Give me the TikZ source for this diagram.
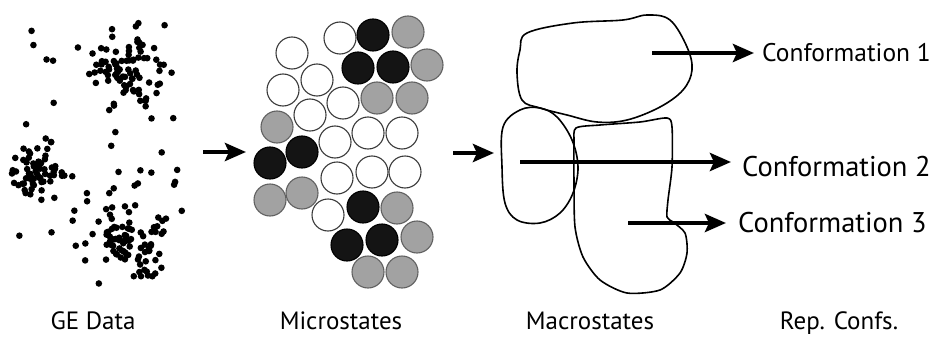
\documentclass[tikz,border=0pt]{standalone}
\usepackage{fontspec}
\setmainfont{PT Sans}
\usetikzlibrary{arrows.meta}
\definecolor{cgray}{HTML}{A2A2A2}
\definecolor{cline}{HTML}{3A3A3A}
\tikzset{
  bigarrow/.style={line width=4.6pt,-{Stealth[length=21pt,width=18pt,inset=4pt]}},
  blob/.style={line width=1.6pt,line join=round},
  cw/.style={draw=cline,line width=1.1pt,fill=white},
  cb/.style={draw=black,line width=1.1pt,fill=black!92},
  cg/.style={draw=cline!80,line width=1.1pt,fill=cgray},
  lab/.style={font=\fontsize{25}{28}\selectfont,inner sep=0pt,anchor=base},
  conf/.style={inner sep=0pt,anchor=base west},
  dot/.style={fill=black}
}
\begin{document}
\begin{tikzpicture}[x=1pt,y=-1pt]
\useasboundingbox (0,0) rectangle (933,337);
\fill[white] (0,0) rectangle (933,337);
% ---------- GE data dots ----------
\pgfmathsetseed{4321}
\foreach \i in {1,...,80}{
  \pgfmathsetmacro\px{129+18*(rand+rand+rand)}
  \pgfmathsetmacro\py{72+21*(rand+rand+rand)}
  \fill[dot] (\px,\py) circle (3.3pt);
}
\foreach \i in {1,...,60}{
  \pgfmathsetmacro\px{36+11*(rand+rand+rand)}
  \pgfmathsetmacro\py{168+13*(rand+rand+rand)}
  \fill[dot] (\px,\py) circle (3.3pt);
}
\foreach \i in {1,...,80}{
  \pgfmathsetmacro\px{130+19*(rand+rand+rand)}
  \pgfmathsetmacro\py{240+20*(rand+rand+rand)}
  \fill[dot] (\px,\py) circle (3.3pt);
}
\foreach \i in {1,...,45}{
  \pgfmathsetmacro\px{100+82*rand}
  \pgfmathsetmacro\py{150+130*rand}
  \fill[dot] (\px,\py) circle (3.3pt);
}
% ---------- Microstates ----------
\foreach \x/\y/\s in {
  340/38/cw, 373/35/cb, 408/32/cg,
  292/53/cw, 358/68/cb, 393/67/cb, 427/65/cg,
  317/80/cw, 283/90/cw, 343/103/cw, 377/98/cg, 412/98/cg,
  310/115/cw, 277/127/cg, 335/142/cw, 368/133/cw, 402/133/cw,
  302/152/cb, 270/163/cb, 337/178/cw, 372/172/cw, 405/172/cw,
  270/200/cg, 302/193/cg, 328/215/cw, 363/207/cb, 397/208/cg,
  347/245/cb, 382/240/cb, 417/237/cg,
  368/272/cg, 402/272/cg}{
  \draw[\s] (\x,\y) circle (16pt);
}
% ---------- Macrostates ----------
\draw[blob] plot[smooth cycle,tension=0.6] coordinates {
  (527,33) (573,23) (623,20) (647,15) (670,20) (687,47) (692,70) (683,90)
  (660,107) (627,120) (597,122) (567,115) (540,108) (522,100) (517,73) (520,50)};
\draw[blob] plot[smooth cycle,tension=0.6] coordinates {
  (520,110) (540,108) (557,117) (572,140) (578,167) (573,193) (560,213)
  (540,223) (517,220) (505,203) (502,167) (503,127)};
\draw[blob] plot[smooth cycle,tension=0.45] coordinates {
  (576,128) (600,125) (640,122) (667,118) (672,127) (672,167) (668,200)
  (667,217) (673,222) (685,233) (687,253) (680,273) (660,290) (627,293)
  (600,280) (583,257) (575,227) (574,183) (574,143)};
% ---------- labels ----------
\node[lab] (lge) at (93,329) {GE Data};
\node[lab] (lmi) at (341,329) {Microstates};
\node[lab] (lma) at (590,329) {Macrostates};
\node[lab] (lrc) at (839,329) {Rep. Confs.};
\node[conf,font=\fontsize{25.5}{29}\selectfont] (conf1) at (762,62) {Conformation 1};
\node[conf,font=\fontsize{28.5}{32}\selectfont] (conf2) at (742,176) {Conformation 2};
\node[conf,font=\fontsize{28.5}{32}\selectfont] (conf3) at (738,232) {Conformation 3};
% ---------- arrows ----------
\coordinate (a1s) at (203,152);
\coordinate (a1e) at (246,152);
\coordinate (a2s) at (453,153);
\coordinate (a2e) at (494,153);
\coordinate (c1s) at (652,53);
\coordinate (c1e) at (754,53);
\coordinate (c2s) at (520,162);
\coordinate (c2e) at (731,162);
\coordinate (c3s) at (628,223);
\coordinate (c3e) at (726,223);
\draw[bigarrow] (a1s) -- (a1e);
\draw[bigarrow] (a2s) -- (a2e);
\draw[bigarrow] (c1s) -- (c1e);
\draw[bigarrow] (c2s) -- (c2e);
\draw[bigarrow] (c3s) -- (c3e);
\end{tikzpicture}
\end{document}
